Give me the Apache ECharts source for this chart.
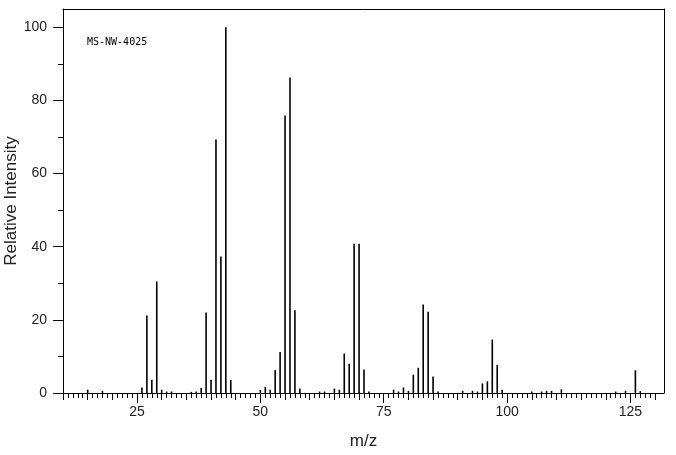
<!DOCTYPE html>
<html>
<head>
<meta charset="utf-8">
<script src="https://cdn.jsdelivr.net/npm/echarts@6/dist/echarts.min.js"></script>
<style>
  html, body { margin: 0; padding: 0; background: #fff; }
  #chart { width: 676px; height: 455px; }
</style>
</head>
<body>
<div id="chart"></div>
<script>
// m/z values and their relative intensities
var mzValues = [15, 18, 26, 27, 28, 29, 30, 31, 32, 36, 37, 38, 39, 40, 41, 42, 43, 44,
    50, 51, 52, 53, 54, 55, 56, 57, 58, 62, 63, 65, 66, 67, 68, 69, 70, 71, 72,
    77, 78, 79, 80, 81, 82, 83, 84, 85, 86, 91, 93, 94, 95, 96, 97, 98, 99,
    105, 107, 108, 109, 111, 122, 124, 126, 127];
var intensities = [0.9, 0.6, 1.5, 21.2, 3.6, 30.5, 0.9, 0.4, 0.4, 0.3, 0.4, 1.4, 22.0, 3.6, 69.3, 37.3, 100, 3.6,
    0.8, 1.7, 0.9, 6.3, 11.2, 75.9, 86.3, 22.6, 1.2, 0.4, 0.4, 1.2, 0.9, 10.8, 8.0, 40.8, 40.8, 6.4, 0.4,
    0.9, 0.4, 1.5, 0.6, 5.0, 6.9, 24.2, 22.2, 4.5, 0.4, 0.6, 0.6, 0.4, 2.6, 3.2, 14.6, 7.7, 0.9,
    0.4, 0.4, 0.6, 0.6, 1.0, 0.4, 0.6, 6.2, 0.5];

// tick labels
var xLabelTicks = [25, 50, 75, 100, 125];
var yLabelTicks = [0, 20, 40, 60, 80, 100];
var yMinorTicks = [10, 30, 50, 70, 90];

var xMin = 10, xMax = 131.8;
var yMin = 0, yMax = 105;

// unit ticks and every-5 ticks along m/z
var xUnitTicks = [], xFiveTicks = [];
for (var t = 10; t <= 130; t++) {
    xUnitTicks.push(t);
    if (t % 5 == 0) xFiveTicks.push(t);
}

var peaks = mzValues.map(function (m, i) { return [m, intensities[i]]; });

var labelFont = { color: '#222', fontSize: 14, fontFamily: 'Liberation Sans' };
var black = { color: '#000', width: 1 };

function plainX(extra) {
    var a = {
        type: 'value', min: xMin, max: xMax, position: 'bottom',
        axisLine: { show: false }, splitLine: { show: false },
        axisLabel: { show: false }, axisTick: { show: false }
    };
    return Object.assign(a, extra);
}
function plainY(extra) {
    var a = {
        type: 'value', min: yMin, max: yMax, position: 'left',
        axisLine: { show: false }, splitLine: { show: false },
        axisLabel: { show: false }, axisTick: { show: false }
    };
    return Object.assign(a, extra);
}

var myChart = echarts.init(document.getElementById('chart'));

var option = {
    animation: false,
    backgroundColor: '#fff',
    title: {
        text: 'MS-NW-4025',
        left: 82, top: 32,
        textStyle: { fontSize: 10, fontWeight: 'normal', color: '#000', fontFamily: 'DejaVu Sans Mono' }
    },
    grid: { left: 63, right: 12, top: 9, bottom: 62, containLabel: false, outerBoundsMode: 'none' },
    xAxis: [
        plainX({
            axisLine: { show: true, lineStyle: black },
            axisTick: { show: true, length: 10, lineStyle: black, customValues: xLabelTicks },
            axisLabel: Object.assign({ show: true, margin: 12, customValues: xLabelTicks }, labelFont),
            name: 'm/z', nameLocation: 'middle', nameGap: 40, nameMoveOverlap: false,
            nameTextStyle: { fontSize: 17, color: '#222', fontFamily: 'Liberation Sans' }
        }),
        plainX({ axisTick: { show: true, length: 7, lineStyle: black, customValues: xFiveTicks } }),
        plainX({ axisTick: { show: true, length: 5, lineStyle: black, customValues: xUnitTicks } }),
        plainX({ position: 'top', axisLine: { show: true, lineStyle: black } })
    ],
    yAxis: [
        plainY({
            axisLine: { show: true, lineStyle: black },
            axisTick: { show: true, length: 10, lineStyle: black, customValues: yLabelTicks },
            axisLabel: Object.assign({ show: true, margin: 16, customValues: yLabelTicks }, labelFont),
            name: 'Relative Intensity', nameLocation: 'middle', nameGap: 43, nameRotate: 90,
            nameMoveOverlap: false,
            nameTextStyle: { fontSize: 17, color: '#222', fontFamily: 'Liberation Sans' }
        }),
        plainY({ axisTick: { show: true, length: 5, lineStyle: black, customValues: yMinorTicks } }),
        plainY({ position: 'right', axisLine: { show: true, lineStyle: black } })
    ],
    series: [
        {
            type: 'bar',
            xAxisIndex: 0,
            yAxisIndex: 0,
            barWidth: 1.6,
            itemStyle: { color: '#000' },
            data: peaks
        }
    ]
};

myChart.setOption(option);
</script>
</body>
</html>
